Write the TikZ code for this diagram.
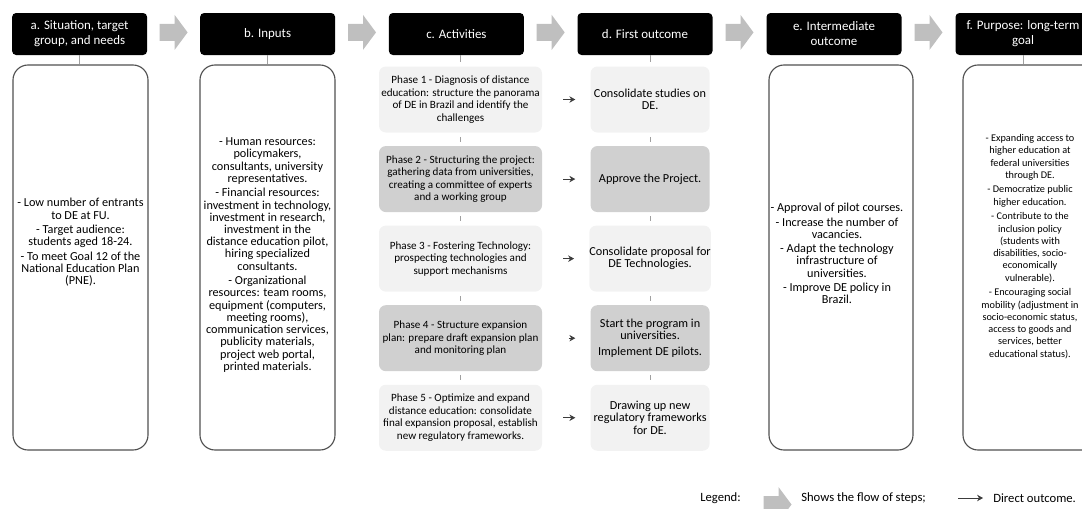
\documentclass[tikz,border=0pt]{standalone}
\usepackage{fontspec}
\setmainfont{Carlito}
\usepackage{xcolor}
\definecolor{box-border}{RGB}{80,80,80}
\definecolor{phase-light}{RGB}{242,242,242}
\definecolor{phase-dark}{RGB}{208,208,208}
\definecolor{flow-gray}{RGB}{191,191,191}
\definecolor{link-gray}{RGB}{160,160,160}
\definecolor{arrow-dark}{RGB}{60,60,60}
\usepackage{tikz}
\usetikzlibrary{positioning,calc,arrows.meta}
\newcommand{\bodyfont}{\fontsize{8.7pt}{8.7pt}\selectfont}
\newcommand{\smallbodyfont}{\fontsize{7.3pt}{8.75pt}\selectfont}
\newcommand{\phasefont}{\fontsize{7.9pt}{8.9pt}\selectfont}
\newcommand{\headfont}{\fontsize{9.2pt}{10.7pt}\selectfont}
\newcommand{\legendfont}{\fontsize{9pt}{10pt}\selectfont}

\tikzset{
	header/.style={fill=black, text=white, rounded corners=0.1cm,
		minimum width=3.375cm, minimum height=1.05cm,
		align=center, font=\headfont, inner sep=0pt},
	bodybox/.style={draw=box-border, line width=0.8pt,
		rounded corners=0.375cm, minimum height=9.625cm},
	bodytext/.style={align=center, font=\bodyfont, inner sep=0pt},
	phase/.style={rounded corners=0.17cm, minimum width=4.075cm,
		minimum height=1.65cm, align=center, font=\phasefont, inner sep=0pt},
	outcome/.style={phase, minimum width=2.975cm, font=\bodyfont},
	lightfill/.style={fill=phase-light},
	darkfill/.style={fill=phase-dark},
	linkline/.style={draw=link-gray, line width=0.5pt},
	directarrow/.style={->, draw=arrow-dark, line width=0.5pt},
	legendtext/.style={anchor=west, inner sep=0pt, font=\legendfont},
	flowarrow/.pic={
		\fill[flow-gray] (-0.35,0.2125) -- (0.025,0.2125) -- (0.025,0.4375)
			-- (0.35,0) -- (0.025,-0.4375) -- (0.025,-0.2125)
			-- (-0.35,-0.2125) -- cycle;
	},
}

\begin{document}
\begin{tikzpicture}[>={Stealth[length=4.2pt,width=4.6pt]}]
	
	\path[use as bounding box] (0,0) rectangle (27.05,-12.7);
	\clip (0,0) rectangle (27.05,-12.7);
	
	% column headers
	\node[header] (ha) at (1.99,-0.85) {a. Situation, target\\group, and needs};
	\node[header] (hb) at (6.69,-0.85) {b. Inputs};
	\node[header] (hc) at (11.41,-0.85) {c. Activities};
	\node[header] (hd) at (16.125,-0.85) {d. First outcome};
	\node[header] (he) at (20.85,-0.85) {e. Intermediate\\outcome};
	\node[header] (hf) at (25.575,-0.85) {f. Purpose: long-term\\goal};
	
	% flow of steps
	\foreach \u/\v in {ha/hb,hb/hc,hc/hd,hd/he,he/hf}
		\pic at ($(\u.east)!0.5!(\v.west)+(0,0.04)$) {flowarrow};
	
	% side columns
	\node[bodybox, minimum width=3.375cm] (ba) at (2.0125,-6.4375) {};
	\node[bodybox, minimum width=3.375cm] (bb) at (6.6875,-6.4375) {};
	\node[bodybox, minimum width=3.6cm] (be) at (21.025,-6.4375) {};
	\node[bodybox, minimum width=3.6cm] (bf) at (25.875,-6.4375) {};
	
	\node[bodytext] (ta) at ([yshift=0.375cm]ba.center) {%
		- Low number of entrants\\to DE at FU.\\[1.6pt]
		- Target audience:\\students aged 18-24.\\[1.6pt]
		- To meet Goal 12 of the\\National Education Plan\\(PNE).};
	\node[bodytext] (tb) at ([yshift=0.0625cm]bb.center) {%
		- Human resources:\\policymakers,\\consultants, university\\representatives.\\[1.6pt]
		- Financial resources:\\investment in technology,\\investment in research,\\investment in the\\distance education pilot,\\hiring specialized\\consultants.\\[1.6pt]
		- Organizational\\resources: team rooms,\\equipment (computers,\\meeting rooms),\\communication services,\\publicity materials,\\project web portal,\\printed materials.};
	\node[bodytext] (te) at ([xshift=-0.1cm,yshift=0.1cm]be.center) {%
		- Approval of pilot courses.\\[1.6pt]
		- Increase the number of\\vacancies.\\[1.6pt]
		- Adapt the technology\\infrastructure of\\universities.\\[1.6pt]
		- Improve DE policy in\\Brazil.};
	\node[bodytext, font=\smallbodyfont] (tf) at ([xshift=-0.125cm,yshift=0.275cm]bf.center) {%
		- Expanding access to\\higher education at\\federal universities\\through DE.\\[1.6pt]
		- Democratize public\\higher education.\\[1.6pt]
		- Contribute to the\\inclusion policy\\(students with\\disabilities, socio-\\economically\\vulnerable).\\[1.6pt]
		- Encouraging social\\mobility (adjustment in\\socio-economic status,\\access to goods and\\services, better\\educational status).};
	
	% activities
	\node[phase, lightfill] (p1) at (11.5125,-2.4875)
		{Phase 1 - Diagnosis of distance\\education: structure the panorama\\of DE in Brazil and identify the\\challenges};
	\node[phase, darkfill, below=0.325cm of p1] (p2)
		{Phase 2 - Structuring the project:\\gathering data from universities,\\creating a committee of experts\\and a working group};
	\node[phase, lightfill, below=0.325cm of p2] (p3)
		{Phase 3 - Fostering Technology:\\prospecting technologies and\\support mechanisms};
	\node[phase, darkfill, below=0.325cm of p3] (p4)
		{Phase 4 - Structure expansion\\plan: prepare draft expansion plan\\and monitoring plan};
	\node[phase, lightfill, below=0.325cm of p4] (p5)
		{Phase 5 - Optimize and expand\\distance education: consolidate\\final expansion proposal, establish\\new regulatory frameworks.};
	
	% first outcomes
	\node[outcome, lightfill, right=1.2cm of p1] (o1) {Consolidate studies on\\DE.};
	\node[outcome, darkfill, below=0.325cm of o1] (o2) {Approve the Project.};
	\node[outcome, lightfill, below=0.325cm of o2] (o3) {Consolidate proposal for\\DE Technologies.};
	\node[outcome, darkfill, below=0.325cm of o3] (o4) {Start the program in\\universities.\\[3pt]Implement DE pilots.};
	\node[outcome, lightfill, below=0.325cm of o4] (o5) {Drawing up new\\regulatory frameworks\\for DE.};
	
	% links
	\draw[linkline] (ha.south) -- (ha.south |- ba.north);
	\draw[linkline] (hb.south) -- (hb.south |- bb.north);
	\draw[linkline] (hf.south) -- (hf.south |- bf.north);
	\draw[linkline, shorten >=0.1cm] (p1.north |- hc.south) -- (p1.north);
	\draw[linkline, shorten >=0.1cm] (o1.north |- hd.south) -- (o1.north);
	\foreach \i/\j in {1/2,2/3,3/4,4/5} {
		\draw[linkline, shorten <=0.1cm, shorten >=0.1cm] (p\i) -- (p\j);
		\draw[linkline, shorten <=0.1cm, shorten >=0.1cm] (o\i) -- (o\j);
	}
	
	% direct outcomes
	\foreach \i in {1,2,3,5}
		\draw[directarrow, shorten <=0.525cm, shorten >=0.375cm] (p\i) -- (o\i);
	\draw[directarrow, shorten <=0.66cm, shorten >=0.375cm] (p4) -- (o4);
	
	% legend
	\node[legendtext] (legtitle) at (17.5,-12.45) {Legend:};
	\pic at (19.4375,-12.6125) {flowarrow};
	\node[legendtext] (legsteps) at (20.025,-12.45) {Shows the flow of steps;};
	\coordinate (legstart) at (23.95,-12.45);
	\node[legendtext] (legdirect) at (24.825,-12.45) {Direct outcome.};
	\draw[directarrow, shorten >=0.25cm] (legstart) -- (legdirect.west);
\end{tikzpicture}
\end{document}
